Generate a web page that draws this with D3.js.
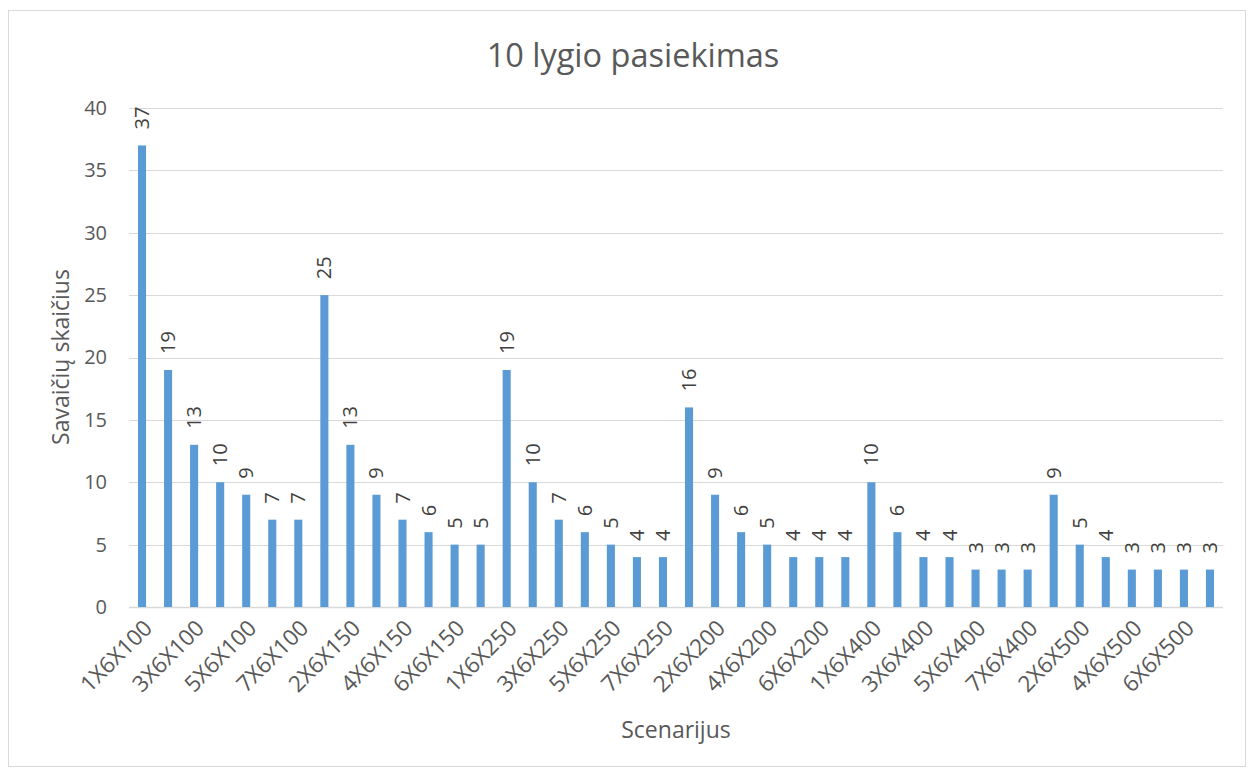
<!DOCTYPE html>
<html>
<head>
<meta charset="utf-8">
<script src="https://cdn.jsdelivr.net/npm/d3@7"></script>
<style>
  body { margin: 0; background: #fff; }
  text { font-family: "Open Sans", sans-serif; fill: #595959; }
</style>
</head>
<body>
<svg id="chart"></svg>
<script>
// scenario names and weeks needed to reach level 10
var scenarios = [
  "1X6X100","2X6X100","3X6X100","4X6X100","5X6X100","6X6X100","7X6X100",
  "1X6X150","2X6X150","3X6X150","4X6X150","5X6X150","6X6X150","7X6X150",
  "1X6X250","2X6X250","3X6X250","4X6X250","5X6X250","6X6X250","7X6X250",
  "1X6X200","2X6X200","3X6X200","4X6X200","5X6X200","6X6X200","7X6X200",
  "1X6X400","2X6X400","3X6X400","4X6X400","5X6X400","6X6X400","7X6X400",
  "1X6X500","2X6X500","3X6X500","4X6X500","5X6X500","6X6X500","7X6X500"
];
var weeks = [
  37,19,13,10,9,7,7,
  25,13,9,7,6,5,5,
  19,10,7,6,5,4,4,
  16,9,6,5,4,4,4,
  10,6,4,4,3,3,3,
  9,5,4,3,3,3,3
];
var yTicks = [0,5,10,15,20,25,30,35,40];

var W = 1253, H = 773;
var margin = {top: 108, right: 30, bottom: 166, left: 129};
var width = 1223 - margin.left,
    height = 607 - margin.top;

var svg = d3.select("#chart").attr("width", W).attr("height", H);

// chart border
svg.append("rect")
  .attr("x", 8.5).attr("y", 10.5)
  .attr("width", 1237).attr("height", 756)
  .style("fill", "none").style("stroke", "#d9d9d9");

var g = svg.append("g").attr("transform", "translate(" + margin.left + "," + margin.top + ")");

var x = d3.scaleBand().domain(scenarios).range([0, width]).paddingInner(0.69).paddingOuter(0.345);
var y = d3.scaleLinear().domain([0, 40]).range([height, 0]);

// gridlines
g.append("g").selectAll("line")
  .data(yTicks)
  .enter().append("line")
  .attr("x1", 0).attr("x2", width)
  .attr("y1", function(d) { return Math.round(y(d)) + 0.5; })
  .attr("y2", function(d) { return Math.round(y(d)) + 0.5; })
  .style("stroke", "#d9d9d9")
  .style("stroke-width", function(d) { return d === 0 ? 1.5 : 1; });

// y axis labels
var yAxis = g.append("g")
  .call(d3.axisLeft(y).tickValues(yTicks).tickSize(0).tickPadding(22));
yAxis.select(".domain").remove();
yAxis.selectAll("text").style("font-size", "20px").style("fill", "#595959")
  .style("font-family", "'Open Sans', sans-serif");

// bars
g.append("g").selectAll("rect")
  .data(weeks)
  .enter().append("rect")
  .attr("x", function(d, i) { return x(scenarios[i]); })
  .attr("y", function(d) { return y(d); })
  .attr("width", x.bandwidth())
  .attr("height", function(d) { return height - y(d); })
  .style("fill", "#5b9bd5");

// value labels, rotated
g.append("g").selectAll("text")
  .data(weeks)
  .enter().append("text")
  .attr("transform", function(d, i) {
    var cx = x(scenarios[i]) + x.bandwidth() / 2;
    return "translate(" + cx + "," + (y(d) - 16) + ") rotate(-90)";
  })
  .attr("dy", "0.35em")
  .style("font-size", "20px")
  .style("fill", "#404040")
  .text(function(d) { return d; });

// x labels, every second one
g.append("g").selectAll("text")
  .data(scenarios.filter(function(d, i) { return i % 2 === 0; }))
  .enter().append("text")
  .attr("transform", function(d) {
    var cx = x(d) + x.bandwidth() / 2;
    return "translate(" + (cx + 6) + "," + (height + 17) + ") rotate(-45)";
  })
  .attr("text-anchor", "end")
  .attr("dy", "0.35em")
  .style("font-size", "22.5px")
  .text(function(d) { return d; });

// title
svg.append("text")
  .attr("x", 633).attr("y", 67)
  .attr("text-anchor", "middle")
  .style("font-size", "32.5px")
  .text("10 lygio pasiekimas");

// axis titles
svg.append("text")
  .attr("x", 676).attr("y", 738)
  .attr("text-anchor", "middle")
  .style("font-size", "23px")
  .text("Scenarijus");

svg.append("text")
  .attr("transform", "translate(69,357) rotate(-90)")
  .attr("text-anchor", "middle")
  .style("font-size", "23px")
  .text("Savaičių skaičius");
</script>
</body>
</html>
